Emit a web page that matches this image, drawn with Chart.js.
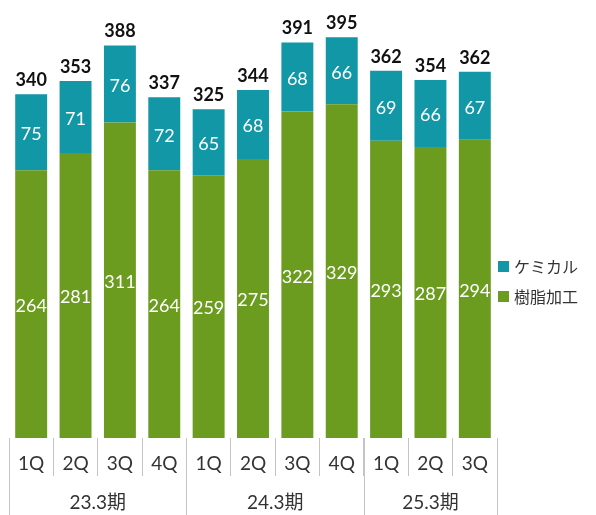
<!DOCTYPE html>
<html>
<head>
<meta charset="utf-8">
<script src="https://cdn.jsdelivr.net/npm/chart.js@4.4.1/dist/chart.umd.min.js"></script>
<style>
  html, body { margin: 0; padding: 0; background: #fff; }
</style>
</head>
<body>
<canvas id="chart" width="596" height="515"></canvas>
<script>
var quarters = ['1Q', '2Q', '3Q', '4Q', '1Q', '2Q', '3Q', '4Q', '1Q', '2Q', '3Q'];
var periods = ['23.3期', '24.3期', '25.3期'];
var periodSizes = [4, 4, 3];
var resin = [264, 281, 311, 264, 259, 275, 322, 329, 293, 287, 294];
var chemical = [75, 71, 76, 72, 65, 68, 68, 66, 69, 66, 67];
var totals = [340, 353, 388, 337, 325, 344, 391, 395, 362, 354, 362];

var fontFamily = "Lato, 'Noto Sans CJK JP', sans-serif";
var green = '#6b9b1f';
var teal = '#1197a6';

// value labels, totals, period boxes and legend
var extras = {
  id: 'extras',
  afterDraw: function (chart) {
    var ctx = chart.ctx;
    var x = chart.scales.x;
    var area = chart.chartArea;
    ctx.save();

    // numbers inside the segments
    ctx.fillStyle = '#fff';
    ctx.textAlign = 'center';
    ctx.textBaseline = 'middle';
    ctx.font = '18px ' + fontFamily;
    chart.data.datasets.forEach(function (ds, di) {
      chart.getDatasetMeta(di).data.forEach(function (bar, i) {
        ctx.fillText(ds.data[i], bar.x, (bar.y + bar.base) / 2 + 2);
      });
    });

    // totals on top
    ctx.fillStyle = '#111';
    ctx.textBaseline = 'bottom';
    ctx.font = 'bold 18px ' + fontFamily;
    chart.getDatasetMeta(1).data.forEach(function (bar, i) {
      ctx.fillText(totals[i], bar.x, bar.y - 5);
    });

    // period boxes below the quarter labels
    var cw = x.width / quarters.length;
    ctx.strokeStyle = '#c4c4c4';
    ctx.lineWidth = 1;
    ctx.fillStyle = '#333';
    ctx.font = "19px Lato, 'Noto Sans CJK JP', sans-serif";
    ctx.textBaseline = 'middle';
    var start = 0;
    for (var p = 0; p <= periods.length; p++) {
      var px = Math.round(x.getPixelForValue(start) - cw / 2) + 0.5;
      ctx.beginPath();
      ctx.moveTo(px, area.bottom);
      ctx.lineTo(px, chart.height);
      ctx.stroke();
      if (p < periods.length) {
        var mid = (x.getPixelForValue(start) + x.getPixelForValue(start + periodSizes[p] - 1)) / 2;
        ctx.fillText(periods[p], mid, 503);
        start += periodSizes[p];
      }
    }

    // legend
    var items = [['ケミカル', teal], ['樹脂加工', green]];
    ctx.textAlign = 'left';
    ctx.font = "16px 'Noto Sans CJK JP', sans-serif";
    items.forEach(function (it, k) {
      var y = 267 + k * 30;
      ctx.fillStyle = it[1];
      ctx.fillRect(498, y - 6, 11, 11);
      ctx.fillStyle = '#333';
      ctx.fillText(it[0], 514, y);
    });
    ctx.restore();
  }
};

new Chart(document.getElementById('chart'), {
  type: 'bar',
  data: {
    labels: quarters,
    datasets: [
      { label: '樹脂加工', data: resin, backgroundColor: green },
      { label: 'ケミカル', data: chemical, backgroundColor: teal }
    ]
  },
  options: {
    responsive: false,
    animation: false,
    devicePixelRatio: 1,
    layout: { padding: { left: 9, right: 99, top: 12, bottom: 0 } },
    datasets: { bar: { categoryPercentage: 1, barPercentage: 0.72 } },
    plugins: { legend: { display: false }, tooltip: { enabled: false } },
    scales: {
      x: {
        stacked: true,
        border: { display: false },
        grid: { offset: true, drawOnChartArea: false, tickLength: 38, color: '#c4c4c4' },
        ticks: { color: '#333', font: { family: fontFamily, size: 19 }, padding: -24, maxRotation: 0 },
        afterFit: function (s) { s.height = 77; }
      },
      y: { stacked: true, display: false, min: 0, max: 420 }
    }
  },
  plugins: [extras]
});
</script>
</body>
</html>
